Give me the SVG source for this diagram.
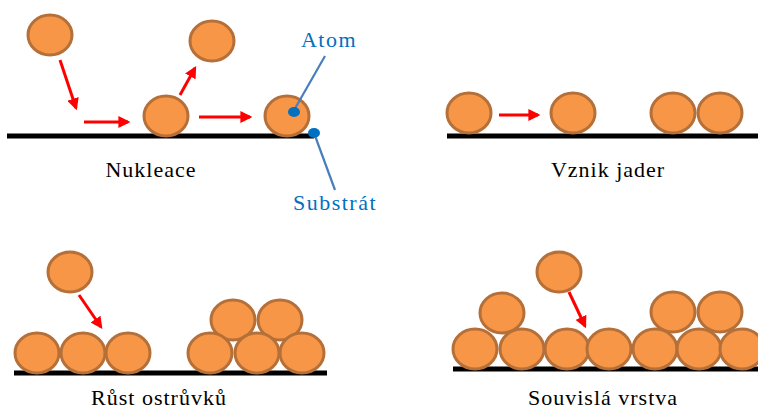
<svg xmlns="http://www.w3.org/2000/svg" width="758" height="409" viewBox="0 0 758 409">
  <style>
    .atom { fill: #F79646; stroke: #B5703A; stroke-width: 3; }
    .sub { stroke: #000; stroke-width: 5; }
    .arr { stroke: #FF0000; stroke-width: 3; fill: none; marker-end: url(#ah); }
    .ptr { stroke: #4A7EBB; stroke-width: 2.2; }
    .dot { fill: #0070C0; }
    .cap { font-size: 22px; fill: #000; text-anchor: middle; letter-spacing: 1px; }
    .lbl { font-size: 22px; fill: #0070C0; text-anchor: middle; letter-spacing: 1.5px; }
  </style>
  <defs>
    <marker id="ah" markerWidth="4" markerHeight="4" refX="3.2" refY="2" orient="auto" markerUnits="strokeWidth">
      <path d="M0,0 L4,2 L0,4 Z" fill="#FF0000"/>
    </marker>
  </defs>
  <rect width="758" height="409" fill="#fff"/>

  <!-- Nukleace -->
  <g id="nukleace">
    <line class="sub" x1="7" y1="136" x2="314" y2="136"/>
    <ellipse class="atom" cx="50" cy="35" rx="22" ry="20"/>
    <ellipse class="atom" cx="212" cy="41" rx="22" ry="20"/>
    <ellipse class="atom" cx="166" cy="116" rx="22" ry="20"/>
    <ellipse class="atom" cx="287" cy="116" rx="22" ry="20"/>
    <text class="cap" x="151" y="177" font-family="Liberation Serif, Times New Roman, serif">Nukleace</text>
  </g>
  <g id="atom-label">
    <line class="ptr" x1="293" y1="112" x2="325" y2="56"/>
    <ellipse class="dot" cx="294" cy="112" rx="6" ry="5"/>
    <text class="lbl" x="329" y="47" font-family="Liberation Serif, Times New Roman, serif">Atom</text>
  </g>
  <g id="substrat-label">
    <line class="ptr" x1="314" y1="133" x2="335" y2="190"/>
    <ellipse class="dot" cx="314" cy="133" rx="6" ry="5"/>
    <text class="lbl" x="335" y="210" font-family="Liberation Serif, Times New Roman, serif">Substrát</text>
  </g>

  <!-- Vznik jader -->
  <g id="vznik-jader">
    <line class="sub" x1="447" y1="136" x2="758" y2="136"/>
    <ellipse class="atom" cx="469" cy="113" rx="22" ry="20"/>
    <ellipse class="atom" cx="573" cy="113" rx="22" ry="20"/>
    <ellipse class="atom" cx="673" cy="113" rx="22" ry="20"/>
    <ellipse class="atom" cx="720" cy="113" rx="22" ry="20"/>
    <text class="cap" x="608" y="177" font-family="Liberation Serif, Times New Roman, serif">Vznik jader</text>
  </g>

  <!-- Růst ostrůvků -->
  <g id="rust-ostruvku">
    <line class="sub" x1="14" y1="373" x2="327" y2="373"/>
    <ellipse class="atom" cx="70" cy="272" rx="22" ry="20"/>
    <ellipse class="atom" cx="37" cy="353" rx="22" ry="20"/>
    <ellipse class="atom" cx="83" cy="353" rx="22" ry="20"/>
    <ellipse class="atom" cx="128" cy="353" rx="22" ry="20"/>
    <ellipse class="atom" cx="233" cy="320" rx="22" ry="20"/>
    <ellipse class="atom" cx="280" cy="320" rx="22" ry="20"/>
    <ellipse class="atom" cx="210" cy="353" rx="22" ry="20"/>
    <ellipse class="atom" cx="257" cy="353" rx="22" ry="20"/>
    <ellipse class="atom" cx="302" cy="353" rx="22" ry="20"/>
    <text class="cap" x="159" y="405" font-family="Liberation Serif, Times New Roman, serif">Růst ostrůvků</text>
  </g>

  <!-- Souvislá vrstva -->
  <g id="souvisla-vrstva">
    <line class="sub" x1="453" y1="369" x2="758" y2="369"/>
    <ellipse class="atom" cx="559" cy="272" rx="22" ry="20"/>
    <ellipse class="atom" cx="502" cy="313" rx="22" ry="20"/>
    <ellipse class="atom" cx="673" cy="312" rx="22" ry="20"/>
    <ellipse class="atom" cx="720" cy="312" rx="22" ry="20"/>
    <ellipse class="atom" cx="475" cy="349" rx="22" ry="20"/>
    <ellipse class="atom" cx="522" cy="349" rx="22" ry="20"/>
    <ellipse class="atom" cx="567" cy="349" rx="22" ry="20"/>
    <ellipse class="atom" cx="609" cy="349" rx="22" ry="20"/>
    <ellipse class="atom" cx="655" cy="349" rx="22" ry="20"/>
    <ellipse class="atom" cx="699" cy="349" rx="22" ry="20"/>
    <ellipse class="atom" cx="742" cy="349" rx="22" ry="20"/>
    <text class="cap" x="603" y="405" font-family="Liberation Serif, Times New Roman, serif">Souvislá vrstva</text>
  </g>

  <!-- arrows -->
  <g id="connectors">
    <line class="arr" x1="60" y1="60" x2="76" y2="108"/>
    <line class="arr" x1="84" y1="122" x2="128" y2="122"/>
    <line class="arr" x1="180" y1="95" x2="195" y2="68"/>
    <line class="arr" x1="199" y1="117" x2="250" y2="117"/>
    <line class="arr" x1="499" y1="115" x2="538" y2="115"/>
    <line class="arr" x1="79" y1="295" x2="101" y2="327"/>
    <line class="arr" x1="569" y1="292" x2="585" y2="326"/>
  </g>
</svg>
